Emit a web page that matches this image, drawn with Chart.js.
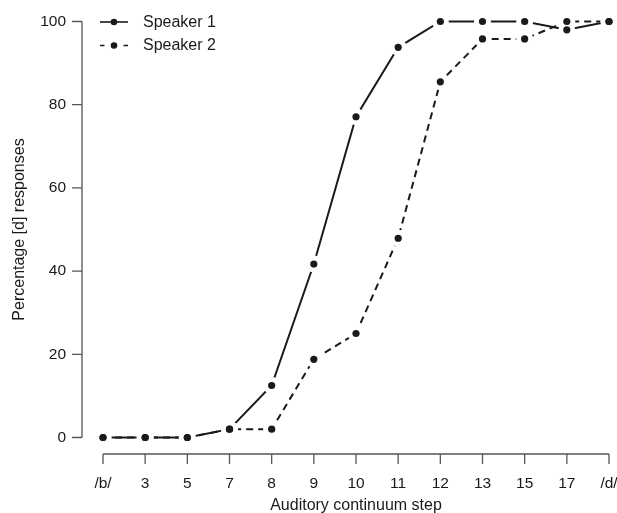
<!DOCTYPE html>
<html>
<head>
<meta charset="utf-8">
<script src="https://cdn.jsdelivr.net/npm/chart.js@4"></script>
<style>
  html, body { margin: 0; padding: 0; background: #fff; }
  #wrap { width: 617px; height: 513px; }
</style>
</head>
<body>
<div id="wrap"><canvas id="chart" width="617" height="513"></canvas></div>
<script>
// continuum steps on the x axis
const steps = ['/b/', '3', '5', '7', '8', '9', '10', '11', '12', '13', '15', '17', '/d/'];
// percentage of [d] responses per step
const speaker1 = [0, 0, 0, 2, 12.5, 41.7, 77.1, 93.8, 100, 100, 100, 98, 100];
const speaker2 = [0, 0, 0, 2, 2, 18.8, 25, 47.9, 85.5, 95.8, 95.8, 100, 100];
const yTicks = [0, 20, 40, 60, 80, 100];
const seriesNames = ['Speaker 1', 'Speaker 2'];

const FONT = '"Liberation Sans", Arial, Helvetica, sans-serif';
const INK = '#1a1a1a';
const AXIS = '#555';

// R-style detached axes (drawn outside the plot area)
const detachedAxes = {
    id: 'detachedAxes',
    afterDraw(chart) {
        const { ctx, chartArea, scales } = chart;
        const x = scales.x, y = scales.y;
        ctx.save();
        ctx.strokeStyle = AXIS;
        ctx.lineWidth = 1.3;

        // y axis
        const ax = chartArea.left - 21;
        ctx.beginPath();
        ctx.moveTo(ax, y.getPixelForValue(yTicks[0]));
        ctx.lineTo(ax, y.getPixelForValue(yTicks[yTicks.length - 1]));
        yTicks.forEach(v => {
            const py = y.getPixelForValue(v);
            ctx.moveTo(ax, py);
            ctx.lineTo(ax - 10, py);
        });
        ctx.stroke();

        // x axis
        const ay = chartArea.bottom + 16.5;
        ctx.beginPath();
        ctx.moveTo(x.getPixelForValue(0), ay);
        ctx.lineTo(x.getPixelForValue(steps.length - 1), ay);
        steps.forEach((s, i) => {
            const px = x.getPixelForValue(i);
            ctx.moveTo(px, ay);
            ctx.lineTo(px, ay + 10);
        });
        ctx.stroke();
        ctx.restore();
    }
};

// type="b" look: clear a small disc round every point, then redraw the points
const pointGaps = {
    id: 'pointGaps',
    afterDatasetsDraw(chart) {
        const ctx = chart.ctx;
        const metas = chart.getSortedVisibleDatasetMetas();
        ctx.save();
        ctx.fillStyle = '#fff';
        metas.forEach(m => m.data.forEach(p => {
            ctx.beginPath();
            ctx.arc(p.x, p.y, 8.5, 0, Math.PI * 2);
            ctx.fill();
        }));
        ctx.restore();
        metas.forEach(m => m.data.forEach(p => p.draw(ctx)));
    }
};

// legend in the top-left corner, line + dot samples
const cornerLegend = {
    id: 'cornerLegend',
    afterDraw(chart) {
        const ctx = chart.ctx;
        const rows = [{ y: 22, dash: [] }, { y: 45.5, dash: [4.5, 19] }];
        ctx.save();
        rows.forEach((r, i) => {
            ctx.strokeStyle = INK;
            ctx.lineWidth = 1.6;
            ctx.setLineDash(r.dash);
            ctx.beginPath();
            ctx.moveTo(100, r.y);
            ctx.lineTo(128, r.y);
            ctx.stroke();
            ctx.setLineDash([]);
            ctx.fillStyle = INK;
            ctx.beginPath();
            ctx.arc(114, r.y, 3.3, 0, Math.PI * 2);
            ctx.fill();
            ctx.font = '16px ' + FONT;
            ctx.textBaseline = 'middle';
            ctx.fillText(seriesNames[i], 143, r.y + 0.5);
        });
        ctx.restore();
    }
};

const pointStyle = {
    borderColor: INK,
    borderWidth: 2,
    pointRadius: 3.6,
    pointHoverRadius: 3.6,
    pointBackgroundColor: INK,
    pointBorderColor: INK,
    pointBorderWidth: 0,
    tension: 0,
    fill: false,
    clip: false
};

new Chart(document.getElementById('chart'), {
    type: 'line',
    data: {
        labels: steps,
        datasets: [
            Object.assign({ label: seriesNames[0], data: speaker1 }, pointStyle),
            Object.assign({ label: seriesNames[1], data: speaker2, borderDash: [7, 5] }, pointStyle)
        ]
    },
    options: {
        responsive: false,
        animation: false,
        events: [],
        layout: { padding: { top: 21.5, right: 8, bottom: 0, left: 0 } },
        plugins: {
            legend: { display: false },
            tooltip: { enabled: false }
        },
        scales: {
            x: {
                type: 'category',
                offset: false,
                grid: { display: false, drawTicks: false },
                border: { display: false },
                ticks: {
                    color: INK,
                    font: { family: FONT, size: 15.5 },
                    padding: 37,
                    autoSkip: false,
                    maxRotation: 0
                },
                title: {
                    display: true,
                    text: 'Auditory continuum step',
                    color: INK,
                    font: { family: FONT, size: 16 },
                    padding: { top: 0, bottom: -2.5 }
                },
                afterFit(s) {
                    s.height = 75.5;
                    s.paddingLeft = 0;
                    s.paddingRight = 0;
                }
            },
            y: {
                min: 0,
                max: 100,
                grid: { display: false, drawTicks: false },
                border: { display: false },
                ticks: {
                    stepSize: 20,
                    color: INK,
                    font: { family: FONT, size: 15.5 },
                    padding: 37
                },
                title: {
                    display: true,
                    text: 'Percentage [d] responses',
                    color: INK,
                    font: { family: FONT, size: 16 },
                    padding: { top: 10, bottom: 0 }
                },
                afterFit(s) {
                    s.width = 103;
                    s.paddingTop = 0;
                    s.paddingBottom = 0;
                }
            }
        }
    },
    plugins: [detachedAxes, pointGaps, cornerLegend]
});
</script>
</body>
</html>
